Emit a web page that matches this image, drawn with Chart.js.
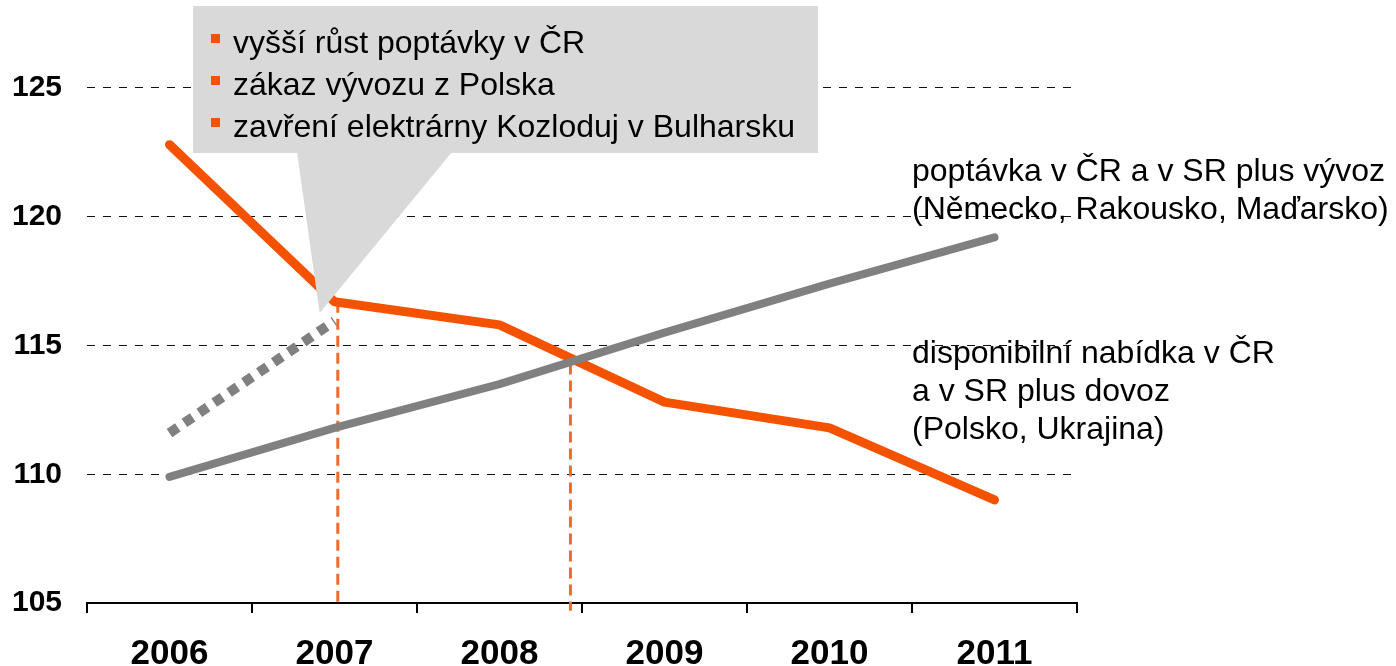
<!DOCTYPE html>
<html>
<head>
<meta charset="utf-8">
<script src="https://cdn.jsdelivr.net/npm/chart.js@4.4.0/dist/chart.umd.min.js"></script>
<style>
  html, body { margin: 0; padding: 0; background: #fff; }
  #wrap { width: 1396px; height: 666px; position: relative; }
</style>
</head>
<body>
<div id="wrap"><canvas id="chart"></canvas></div>
<script>
const years = ['2006', '2007', '2008', '2009', '2010', '2011'];
const supply = [109.9, 111.8, 113.5, 115.5, 117.4, 119.2];      // grey line
const demand = [122.8, 116.7, 115.8, 112.8, 111.8, 109.0];      // orange line
const supplyOld = [111.6, 115.95, null, null, null, null];      // dotted grey
const yTicks = [105, 110, 115, 120, 125];

// dashed orange markers: category index, top value, bottom value
const markerAt = [1.02, 2.43];
const markerTop = [116.7, 114.3];
const markerBottom = [105, 104.7];

const calloutLines = ['vyšší růst poptávky v ČR', 'zákaz vývozu z Polska', 'zavření elektrárny Kozloduj v Bulharsku'];
const calloutTip = [0.91, 116.26];
const demandLabel = ['poptávka v ČR a v SR plus vývoz', '(Německo, Rakousko, Maďarsko)'];
const supplyLabel = ['disponibilní nabídka v ČR', 'a v SR plus dovoz', '(Polsko, Ukrajina)'];

const FONT = "'Liberation Sans', Arial, sans-serif";
const ORANGE = '#F55200';
const GREY = '#808080';

const annotations = {
  id: 'annotations',
  beforeDatasetsDraw(chart) {
    const { ctx, scales: { x, y } } = chart;
    ctx.save();
    ctx.strokeStyle = '#F26B2A';
    ctx.lineWidth = 3;
    ctx.setLineDash([11, 6]);
    markerAt.forEach((m, i) => {
      const px = x.getPixelForValue(m);
      ctx.beginPath();
      ctx.moveTo(px, y.getPixelForValue(markerTop[i]));
      ctx.lineTo(px, y.getPixelForValue(markerBottom[i]));
      ctx.stroke();
    });
    ctx.restore();
  },
  afterDatasetsDraw(chart) {
    const { ctx, scales: { x, y } } = chart;
    ctx.save();
    // callout box with pointer
    ctx.fillStyle = '#D9D9D9';
    ctx.fillRect(193, 6, 625, 147);
    ctx.beginPath();
    ctx.moveTo(297, 152);
    ctx.lineTo(x.getPixelForValue(calloutTip[0]), y.getPixelForValue(calloutTip[1]));
    ctx.lineTo(452, 152);
    ctx.closePath();
    ctx.fill();

    ctx.font = '32px ' + FONT;
    ctx.textBaseline = 'alphabetic';
    ctx.textAlign = 'left';
    calloutLines.forEach((t, i) => {
      const base = 53 + i * 42;
      ctx.fillStyle = ORANGE;
      ctx.fillRect(211, base - 19, 9, 9);
      ctx.fillStyle = '#000';
      ctx.fillText(t, 233, base);
    });

    // line labels
    demandLabel.forEach((t, i) => ctx.fillText(t, 912, 181 + i * 38));
    supplyLabel.forEach((t, i) => ctx.fillText(t, 912, 363 + i * 38));
    ctx.restore();
  }
};

new Chart(document.getElementById('chart'), {
  type: 'line',
  data: {
    labels: years,
    datasets: [
      {
        data: supply,
        borderColor: GREY,
        borderWidth: 8,
        borderCapStyle: 'round',
        borderJoinStyle: 'round'
      },
      {
        data: demand,
        borderColor: ORANGE,
        borderWidth: 9,
        borderCapStyle: 'round',
        borderJoinStyle: 'round'
      },
      {
        data: supplyOld,
        borderColor: GREY,
        borderWidth: 10,
        borderDash: [10, 8],
        borderCapStyle: 'butt'
      }
    ]
  },
  options: {
    responsive: true,
    maintainAspectRatio: false,
    animation: false,
    layout: { padding: { top: 0, right: 319, left: 0, bottom: 0 } },
    plugins: { legend: { display: false }, tooltip: { enabled: false } },
    elements: { point: { radius: 0 }, line: { tension: 0 } },
    scales: {
      x: {
        offset: true,
        grid: { offset: true, drawOnChartArea: false, drawTicks: true, tickLength: 10, color: '#000', lineWidth: 2 },
        border: { display: true, color: '#000', width: 2 },
        ticks: { color: '#000', font: { family: FONT, size: 35, weight: 'bold' }, padding: 20, maxRotation: 0 },
        afterFit(s) { s.height = 63; }
      },
      y: {
        min: 105,
        max: 128.3,
        afterBuildTicks(s) { s.ticks = yTicks.map(v => ({ value: v })); },
        grid: {
          drawTicks: true,
          tickLength: 25,
          tickColor: 'rgba(0,0,0,0)',
          lineWidth: 1,
          color: c => (c.tick && c.tick.value === 105) ? 'rgba(0,0,0,0)' : '#111'
        },
        border: { display: false, dash: [8, 8] },
        ticks: { color: '#000', font: { family: FONT, size: 30, weight: 'bold', lineHeight: 0.2 }, padding: 0 },
        afterFit(s) { s.width = 87; }
      }
    }
  },
  plugins: [annotations]
});
</script>
</body>
</html>
